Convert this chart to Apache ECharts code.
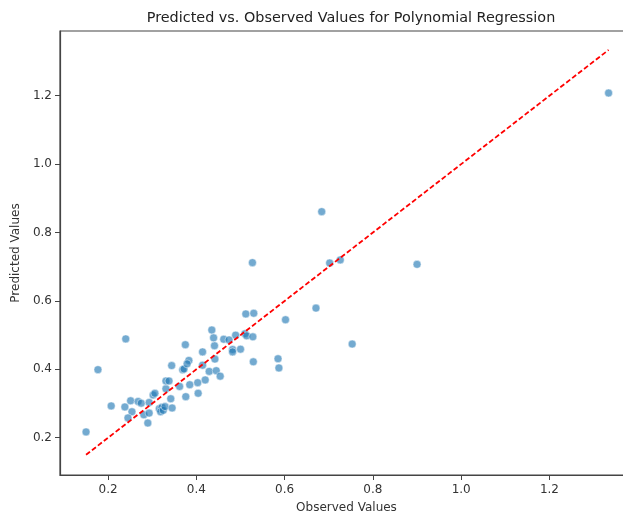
<!DOCTYPE html>
<html>
<head>
<meta charset="utf-8">
<script src="https://cdn.jsdelivr.net/npm/echarts@6/dist/echarts.min.js"></script>
<style>
  html, body { margin: 0; padding: 0; background: #fff; }
  #chart { width: 623px; height: 514px; }
</style>
</head>
<body>
<div id="chart"></div>
<script>
// observed (x) and predicted (y) values
let observed = [
  0.150, 0.177, 0.240, 0.207, 0.238, 0.251, 0.254, 0.245, 0.268, 0.275,
  0.281, 0.293, 0.290, 0.293, 0.302, 0.306, 0.316, 0.322, 0.319, 0.325,
  0.329, 0.345, 0.342, 0.331, 0.331, 0.338, 0.344, 0.362, 0.369, 0.372,
  0.376, 0.375, 0.383, 0.379, 0.385, 0.403, 0.404, 0.420, 0.414, 0.414,
  0.429, 0.445, 0.454, 0.442, 0.441, 0.435, 0.439, 0.462, 0.474, 0.482,
  0.482, 0.500, 0.489, 0.510, 0.514, 0.512, 0.530, 0.528, 0.529, 0.527,
  0.585, 0.587, 0.602, 0.671, 0.684, 0.702, 0.726, 0.753, 0.900, 1.334
];
let predicted = [
  0.217, 0.399, 0.489, 0.293, 0.290, 0.308, 0.276, 0.258, 0.306, 0.301,
  0.267, 0.272, 0.243, 0.303, 0.325, 0.330, 0.285, 0.289, 0.276, 0.280,
  0.291, 0.287, 0.314, 0.343, 0.366, 0.366, 0.411, 0.350, 0.399, 0.401,
  0.320, 0.472, 0.426, 0.416, 0.355, 0.361, 0.330, 0.369, 0.412, 0.451,
  0.394, 0.396, 0.380, 0.430, 0.469, 0.515, 0.492, 0.488, 0.486, 0.458,
  0.451, 0.459, 0.500, 0.504, 0.498, 0.562, 0.564, 0.495, 0.422, 0.712,
  0.431, 0.404, 0.545, 0.579, 0.861, 0.711, 0.720, 0.474, 0.707, 1.208
];
// perfect-fit reference line y = x
let refLine = [0.150, 1.334];
let xTicks = [0.2, 0.4, 0.6, 0.8, 1.0, 1.2];
let yTicks = [0.2, 0.4, 0.6, 0.8, 1.0, 1.2];

let points = observed.map((v, i) => [v, predicted[i]]);
let fmt = v => v.toFixed(1);

let myChart = echarts.init(document.getElementById("chart"), null, { renderer: "canvas" });

let axisCommon = {
  type: "value",
  min: 0.091,
  max: 1.3893,
  nameLocation: "middle",
  nameTextStyle: { fontFamily: "DejaVu Sans", fontSize: 12, color: "#333" },
  axisLine: { show: true, lineStyle: { color: "#444", width: 1.2 } },
  axisTick: { show: true, length: 5, lineStyle: { color: "#444" } },
  axisLabel: { fontFamily: "DejaVu Sans", fontSize: 12, color: "#333", formatter: fmt },
  splitLine: { show: false }
};

let option = {
  animation: false,
  backgroundColor: "#fff",
  title: {
    text: "Predicted vs. Observed Values for Polynomial Regression",
    left: 346,
    top: 6,
    textAlign: "center",
    textStyle: { fontFamily: "DejaVu Sans", fontSize: 14.4, fontWeight: "normal", color: "#222" }
  },
  grid: {
    left: 60,
    top: 31,
    right: -10,
    bottom: 39,
    outerBoundsMode: "none",
    containLabel: false,
    show: true,
    borderColor: "#444",
    borderWidth: 1.2
  },
  xAxis: Object.assign({}, axisCommon, {
    name: "Observed Values",
    nameGap: 27,
    axisTick: Object.assign({}, axisCommon.axisTick, { customValues: xTicks }),
    axisLabel: Object.assign({}, axisCommon.axisLabel, { customValues: xTicks, margin: 9 })
  }),
  yAxis: Object.assign({}, axisCommon, {
    name: "Predicted Values",
    nameGap: 35,
    axisTick: Object.assign({}, axisCommon.axisTick, { customValues: yTicks }),
    axisLabel: Object.assign({}, axisCommon.axisLabel, { customValues: yTicks, margin: 8 })
  }),
  series: [
    {
      type: "scatter",
      data: points,
      symbolSize: 8,
      itemStyle: { color: "rgba(31,119,180,0.78)", borderColor: "#fff", borderWidth: 0.6 },
      z: 2
    },
    {
      type: "line",
      data: [[refLine[0], refLine[0]], [refLine[1], refLine[1]]],
      symbol: "none",
      lineStyle: { color: "#ff0000", width: 1.8, type: [5, 2.5] },
      z: 3
    }
  ]
};

myChart.setOption(option);
</script>
</body>
</html>
